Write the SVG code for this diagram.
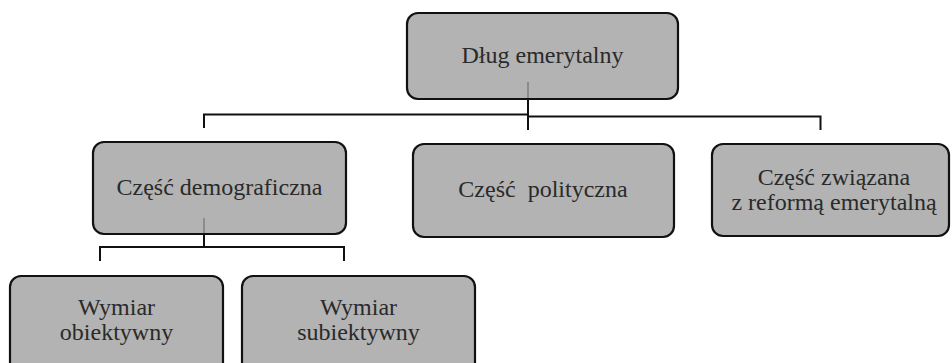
<svg xmlns="http://www.w3.org/2000/svg" width="952" height="363" viewBox="0 0 952 363">
<style>
.box{fill:#b3b3b3;stroke:#111;stroke-width:2.2}
.t{font-family:'Liberation Serif','Times New Roman',serif;font-size:24px;fill:#2a2a2a;text-anchor:middle}
.ln{stroke:#111;stroke-width:2;fill:none}
.gl{stroke:#8c8c8c;stroke-width:2;fill:none}
</style>
<rect width="952" height="363" fill="#fff"/>
<g id="dlug">
<rect class="box" x="407" y="13" width="271" height="86" rx="11"/>
<text class="t" x="542.5" y="63">Dług emerytalny</text>
</g>
<g id="demograficzna">
<rect class="box" x="93" y="142" width="253" height="92" rx="11"/>
<text class="t" x="219.5" y="195">Część demograficzna</text>
</g>
<g id="polityczna">
<rect class="box" x="413" y="144" width="261" height="93" rx="11"/>
<text class="t" x="543" y="197" xml:space="preserve">Część  polityczna</text>
</g>
<g id="reforma">
<rect class="box" x="712" y="144" width="237" height="92" rx="11"/>
<text class="t" x="834" y="185">Część związana</text>
<text class="t" x="834" y="210">z reformą emerytalną</text>
</g>
<g id="obiektywny">
<rect class="box" x="10" y="276" width="213" height="100" rx="11"/>
<text class="t" x="116.5" y="315">Wymiar</text>
<text class="t" x="116.5" y="340">obiektywny</text>
</g>
<g id="subiektywny">
<rect class="box" x="242" y="276" width="233" height="100" rx="11"/>
<text class="t" x="358.5" y="315">Wymiar</text>
<text class="t" x="358.5" y="340">subiektywny</text>
</g>
<g id="connectors">
<line class="gl" x1="528" y1="82" x2="528" y2="98"/>
<line class="ln" x1="528" y1="98" x2="528" y2="130"/>
<polyline class="ln" points="204,128 204,114.5 528,114.5"/>
<polyline class="ln" points="528,116.5 820.5,116.5 820.5,130"/>
<line class="gl" x1="204" y1="218" x2="204" y2="233"/>
<line class="ln" x1="204" y1="233" x2="204" y2="247"/>
<polyline class="ln" points="100,261 100,247 344,247 344,261"/>
</g>
</svg>
